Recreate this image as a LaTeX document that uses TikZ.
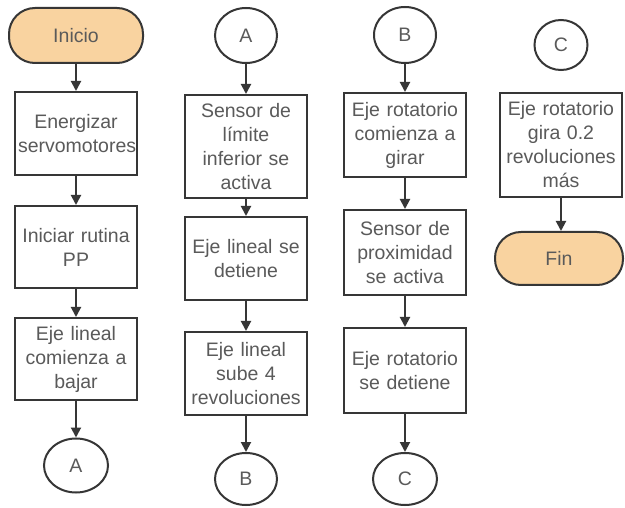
\documentclass[tikz,border=0pt]{standalone}
\usepackage{fontspec}
\setmainfont{Liberation Sans}
\usetikzlibrary{arrows.meta,shapes.geometric}
\definecolor{flowline}{HTML}{363636}
\definecolor{flowtext}{HTML}{5A5A5A}
\definecolor{flowpeach}{HTML}{F9D3A0}

\tikzset{
  paso/.style={draw=flowline,line width=2pt,fill=white,text=flowtext,
    align=center,text width=116pt,inner sep=3pt,
    font=\fontsize{19.5}{24}\selectfont},
  terminal/.style={draw=flowline,line width=2pt,fill=flowpeach,text=flowtext,
    minimum width=130pt,minimum height=53pt,rounded corners=26pt,
    font=\fontsize{19.5}{24}\selectfont},
  conector/.style={ellipse,draw=flowline,line width=2pt,fill=white,
    text=flowtext,minimum width=62pt,minimum height=54pt,inner sep=0pt,
    font=\fontsize{19.5}{24}\selectfont},
  flecha/.style={draw=flowline,line width=2pt,-{Triangle[length=10pt,width=10pt]}}
}

\begin{document}
\begin{tikzpicture}[x=1pt,y=-1pt]
        \useasboundingbox[fill=white] (0,0) rectangle (625,508);
        % primera columna
        \node[terminal,minimum width=134pt,minimum height=55pt] (inicio) at (76,35.5) {Inicio};
        \node[paso,minimum height=83pt] (energizar) at (76,133.5) {Energizar\\servomotores};
        \node[paso,minimum height=82pt] (rutina) at (76,247) {Iniciar rutina\\PP};
        \node[paso,minimum height=82pt] (bajar) at (76,359) {Eje lineal\\comienza a\\bajar};
        \node[conector,minimum width=64pt] (salidaA) at (76,465.5) {A};
        \draw[flecha] (inicio) -- (energizar);
        \draw[flecha] (energizar) -- (rutina);
        \draw[flecha] (rutina) -- (bajar);
        \draw[flecha] (bajar) -- (salidaA);
        % segunda columna
        \node[conector,minimum height=55pt] (entradaA) at (246,35.5) {A};
        \node[paso,minimum height=103pt] (limite) at (246,146.5) {Sensor de\\límite\\inferior se\\activa};
        \node[paso,minimum height=83pt] (detieneL) at (246,258.5) {Eje lineal se\\detiene};
        \node[paso,minimum height=83pt] (sube) at (246,373.5) {Eje lineal\\sube 4\\revoluciones};
        \node[conector,minimum height=52pt] (salidaB) at (246,479) {B};
        \draw[flecha] (entradaA) -- (limite);
        \draw[flecha] (limite) -- (detieneL);
        \draw[flecha] (detieneL) -- (sube);
        \draw[flecha] (sube) -- (salidaB);
        % tercera columna
        \node[conector,minimum height=56pt] (entradaB) at (405,35) {B};
        \node[paso,minimum height=84pt] (girar) at (405,135) {Eje rotatorio\\comienza a\\girar};
        \node[paso,minimum height=85pt] (proximidad) at (405,252.5) {Sensor de\\proximidad\\se activa};
        \node[paso,minimum height=85pt] (detieneR) at (405,370.5) {Eje rotatorio\\se detiene};
        \node[conector,minimum width=64pt,minimum height=52pt] (salidaC) at (405,479) {C};
        \draw[flecha] (entradaB) -- (girar);
        \draw[flecha] (girar) -- (proximidad);
        \draw[flecha] (proximidad) -- (detieneR);
        \draw[flecha] (detieneR) -- (salidaC);
        % cuarta columna
        \node[conector,minimum width=53pt,minimum height=50pt] (entradaC) at (561,45) {C};
        \node[paso,minimum height=104pt] (gira) at (561,145) {Eje rotatorio\\gira 0.2\\revoluciones\\más};
        \node[terminal,minimum width=128pt] (fin) at (559,258.5) {Fin};
        \draw[flecha] (gira.south) -- (gira.south |- fin.north);
      \end{tikzpicture}
\end{document}
